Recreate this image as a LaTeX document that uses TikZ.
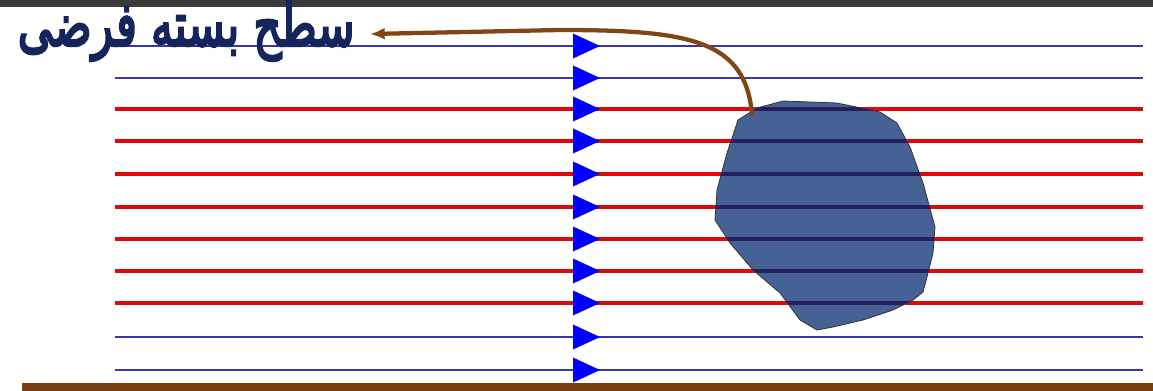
\documentclass[tikz,border=0pt]{standalone}
\usepackage{fontspec}
\usepackage{tikz}
\usetikzlibrary{arrows.meta}
\TeXXeTstate=1
\newfontfamily\arabicfont[Script=Arabic,FakeBold=4]{DejaVu Sans}
\definecolor{fxbar}{RGB}{58,58,58}
\definecolor{fxfloor}{RGB}{122,62,18}
\definecolor{fxblue}{RGB}{55,55,170}
\definecolor{fxred}{RGB}{222,10,10}
\definecolor{fxtri}{RGB}{0,0,255}
\definecolor{fxbody}{RGB}{70,98,148}
\definecolor{fxin}{RGB}{40,30,92}
\definecolor{fxlink}{RGB}{128,70,20}
\definecolor{fxtext}{RGB}{22,36,92}
\tikzset{
  bline/.style={draw=fxblue, line width=1.6pt},
  rline/.style={draw=fxred, line width=2.8pt},
  inline/.style={draw=fxin, line width=2.8pt},
  flowtip/.style={fill=fxtri, draw=none},
  body/.style={fill=fxbody, draw=black!80, line width=0.6pt},
  link/.style={-{Latex[length=11pt,width=9pt]}, draw=fxlink, line width=3.2pt},
  surf/.style={font=\arabicfont\fontsize{44}{48}\selectfont, text=fxtext, inner sep=0pt}
}
\begin{document}
\begin{tikzpicture}[x=0.75pt,y=-0.75pt]
  \useasboundingbox (0,0) rectangle (1153,391);
  \fill[white] (0,0) rectangle (1153,391);
  % frame bars
  \fill[fxbar] (0,0) rectangle (1153,7);
  \fill[fxfloor] (22,383) rectangle (1153,391);
  % flow lines
  \foreach \y in {46,78,337,370}
    \draw[bline] (115,\y) -- (1143,\y);
  \foreach \y in {109,141,174,207,239,271,303}
    \draw[rline] (115,\y) -- (1143,\y);
  % the body
  \path[body] (783,101) -- (837,103) -- (880,112) -- (897,123) -- (910,147)
    -- (923,183) -- (935,227) -- (933,253) -- (927,277) -- (923,292)
    -- (913,300) -- (893,310) -- (863,320) -- (833,327) -- (817,330)
    -- (800,320) -- (780,293) -- (753,270) -- (730,243) -- (715,220)
    -- (717,190) -- (727,153) -- (738,120) -- (757,108) -- cycle;
  \begin{scope}
    \clip (783,101) -- (837,103) -- (880,112) -- (897,123) -- (910,147)
      -- (923,183) -- (935,227) -- (933,253) -- (927,277) -- (923,292)
      -- (913,300) -- (893,310) -- (863,320) -- (833,327) -- (817,330)
      -- (800,320) -- (780,293) -- (753,270) -- (730,243) -- (715,220)
      -- (717,190) -- (727,153) -- (738,120) -- (757,108) -- cycle;
    \foreach \y in {109,141,174,207,239,271,303}
      \draw[inline] (700,\y) -- (950,\y);
  \end{scope}
  % flux markers
  \foreach \y in {46,78,109,141,174,207,239,271,303,337,370}
    \fill[flowtip] (573,\y-12.5) -- (600,\y) -- (573,\y+12.5) -- cycle;
  % label
  \node[surf, anchor=base east] (surface) at (355,46) {\scalebox{0.75}[1.05]{\beginR سطح بسته فرضی\endR}};
  \coordinate (tail) at (752,115);
  \coordinate (tip) at (370,34);
  \draw[link] (tail) .. controls (746,40) and (690,30) .. (560,30) -- (tip);
\end{tikzpicture}
\end{document}
